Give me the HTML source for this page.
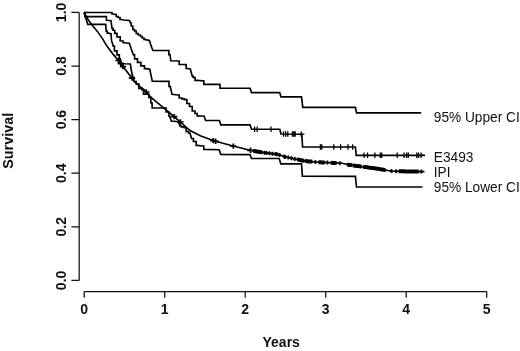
<!DOCTYPE html>
<html><head><meta charset="utf-8"><title>Survival</title>
<style>
html,body{margin:0;padding:0;background:#fff;}
body{width:520px;height:351px;overflow:hidden;}
svg{display:block;}
text{font-family:"Liberation Sans",Arial,Helvetica,sans-serif;fill:#111;}
.tk{font-size:14px;font-weight:bold;}
.ti{font-size:14px;font-weight:bold;}
.lb{font-size:14px;}
.c{fill:none;stroke:#000;stroke-width:1.65;stroke-linejoin:miter;stroke-linecap:butt;}
.ax{fill:none;stroke:#111;stroke-width:1.25;}
.m{fill:none;stroke:#000;stroke-width:1.7;}
.me{fill:none;stroke:#000;stroke-width:1.3;}
</style></head><body>
<svg width="520" height="351" viewBox="0 0 520 351">
<rect width="520" height="351" fill="#fff"/>
<g class="ax">
<path d="M79.2,12.4V280.4"/>
<path d="M79.2,280.4h-7.8M79.2,226.8h-7.8M79.2,173.2h-7.8M79.2,119.6h-7.8M79.2,66.0h-7.8M79.2,12.4h-7.8"/>
<path d="M84.2,291.6H486.7"/>
<path d="M84.2,291.6v6.2M164.7,291.6v6.2M245.2,291.6v6.2M325.7,291.6v6.2M406.2,291.6v6.2M486.7,291.6v6.2"/>
</g>
<g class="tk"><text x="84.2" y="313.7" text-anchor="middle">0</text><text x="164.7" y="313.7" text-anchor="middle">1</text><text x="245.2" y="313.7" text-anchor="middle">2</text><text x="325.7" y="313.7" text-anchor="middle">3</text><text x="406.2" y="313.7" text-anchor="middle">4</text><text x="486.7" y="313.7" text-anchor="middle">5</text><text transform="translate(66,280.4) rotate(-90)" text-anchor="middle">0.0</text><text transform="translate(66,226.8) rotate(-90)" text-anchor="middle">0.2</text><text transform="translate(66,173.2) rotate(-90)" text-anchor="middle">0.4</text><text transform="translate(66,119.6) rotate(-90)" text-anchor="middle">0.6</text><text transform="translate(66,66.0) rotate(-90)" text-anchor="middle">0.8</text><text transform="translate(66,12.4) rotate(-90)" text-anchor="middle">1.0</text></g>
<g class="ti">
<text x="281.2" y="346.6" text-anchor="middle">Years</text>
<text transform="translate(12.8,140.8) rotate(-90)" text-anchor="middle" style="font-size:14.4px">Survival</text>
</g>
<g class="c">
<polyline points="84.0,12.5 111.0,12.5 112.0,12.5 112.0,14.0 113.0,14.0 115.5,14.5 116.2,14.5 116.2,16.5 117.0,16.5 118.0,16.5 118.0,17.5 119.0,17.5 120.0,17.5 120.0,19.5 121.0,19.5 124.0,20.0 129.5,20.5 130.5,23.0 131.2,23.0 131.2,26.0 132.0,26.0 132.8,26.0 132.8,29.5 133.5,29.5 134.5,29.5 134.5,31.0 135.5,31.0 136.2,31.0 136.2,33.5 137.0,33.5 138.2,33.5 138.2,35.0 139.5,35.0 140.5,35.0 140.5,36.5 141.5,36.5 142.2,36.5 142.2,38.0 143.0,38.0 144.0,38.0 144.0,39.5 145.0,39.5 146.1,39.5 146.1,40.0 148.4,40.0 148.4,40.5 149.5,40.5 150.5,44.0 152.8,50.5 167.7,50.5 168.8,50.5 168.8,54.6 170.0,54.6 170.8,60.8 178.5,61.0 179.2,61.0 179.2,64.3 180.0,64.3 185.4,64.6 186.2,64.6 186.2,68.5 187.0,68.5 190.3,69.0 192.3,76.2 193.2,76.2 193.2,77.5 194.0,77.5 195.1,77.5 195.1,80.3 196.2,80.3 203.0,80.8 203.8,80.8 203.8,84.3 204.6,84.3 219.2,84.4 220.0,84.4 220.0,88.2 220.8,88.2 250.0,88.2 251.5,92.6 279.7,92.6 281.0,96.8 301.5,96.8 302.8,107.4 355.4,107.4 356.5,112.8 421.2,112.8"/>
<polyline points="84.0,12.5 87.8,24.4 105.7,24.4 106.2,31.2 107.2,31.2 107.2,33.1 108.1,33.1 111.0,33.6 111.5,40.4 113.3,46.1 114.4,46.1 114.4,50.8 115.6,50.8 117.0,50.8 117.0,54.8 118.5,54.8 119.3,54.8 119.3,58.8 120.2,58.8 120.5,63.0 124.8,63.7 130.4,64.0 131.2,70.0 133.0,77.5 133.9,77.5 133.9,81.5 134.8,81.5 136.2,81.5 136.2,83.8 137.7,83.8 138.8,83.8 138.8,88.4 140.0,88.4 141.7,88.4 141.7,89.6 143.4,89.6 143.5,94.2 148.0,94.2 148.8,94.2 148.8,97.3 149.6,97.3 150.8,97.3 150.8,102.7 152.0,102.7 152.2,108.0 164.2,108.0 166.1,108.0 166.1,112.0 168.0,112.0 168.8,112.0 168.8,115.8 169.6,115.8 171.2,121.0 178.5,121.7 180.0,126.0 181.3,126.0 181.3,126.8 184.1,126.8 184.1,127.7 185.4,127.7 186.2,127.7 186.2,131.5 187.0,131.5 188.5,131.5 188.5,133.0 190.0,133.0 191.5,138.5 193.4,138.5 193.4,141.5 195.4,141.5 196.2,141.5 196.2,145.4 197.0,145.4 203.0,146.0 203.8,146.0 203.8,149.4 204.6,149.4 219.2,149.8 220.8,154.4 250.0,154.6 251.5,158.5 279.2,158.5 280.8,163.8 301.5,163.8 302.4,176.3 355.4,176.4 356.5,187.0 422.5,187.0"/>
<polyline points="84.0,12.5 84.9,12.5 84.9,16.6 85.8,16.6 105.7,16.6 106.4,16.6 106.4,20.2 107.1,20.2 111.0,20.7 112.0,28.3 113.0,28.3 113.0,30.2 113.9,30.2 114.7,30.2 114.7,33.3 115.4,33.3 117.0,33.3 117.0,36.9 118.5,36.9 120.2,36.9 120.2,41.0 121.9,41.0 123.1,41.0 123.1,42.7 124.2,42.7 129.4,43.3 131.1,48.5 133.4,54.8 134.6,54.8 134.6,58.8 135.8,58.8 137.5,58.8 137.5,62.3 139.2,62.3 140.9,62.3 140.9,65.8 142.7,65.8 144.4,65.8 144.4,68.6 146.1,68.6 149.8,69.3 152.3,81.3 167.8,81.4 169.0,81.4 169.0,86.4 170.2,86.4 172.0,94.2 178.0,95.0 179.2,95.0 179.2,98.0 180.4,98.0 181.8,98.0 181.8,98.8 184.5,98.8 184.5,99.6 185.8,99.6 186.9,99.6 186.9,103.5 188.0,103.5 189.5,103.5 189.5,106.5 191.0,106.5 192.2,106.5 192.2,111.0 193.5,111.0 195.0,111.0 195.0,113.5 196.5,113.5 197.2,113.5 197.2,115.8 198.0,115.8 204.2,116.3 205.6,120.4 219.4,120.5 220.8,124.8 250.0,124.8 251.5,129.2 279.8,129.2 281.0,134.0 301.8,134.2 302.6,147.0 355.4,147.0 356.2,155.3 425.0,155.3"/>
<polyline points="84,12.5 88,19.5 92.6,25.8 97.4,31.4 102.3,38.4 106.9,46.1 113.6,54.9 118.5,60.5 122.5,66 131.9,78 135,82.3 145.8,91.4 150.4,97 165.8,109.6 175,117.3 181,122.5 190,130.5 200.8,136 213.8,140.8 233,146 250,150.2 263.8,152.6 277,154.2 285,156.8 295,159 303.8,160.8 315,162 331.5,162.8 342,163.3 348.6,164.8 360.8,166.5 375,168.4 385,170 392,171.2 424.5,171.6"/>
</g>
<path class="m" d="M115.3,60.5h6.4M118.5,57.8v5.4M117.6,63.7h6.4M120.8,61.0v5.4M119.8,66.6h6.4M123.0,63.9v5.4M128.8,78.1h6.4M132.0,75.4v5.4M143.1,92.0h6.4M146.3,89.3v5.4M171.0,116.6h6.4M174.2,113.9v5.4M177.2,122.0h6.4M180.4,119.3v5.4M210.0,140.6h6.4M213.2,137.9v5.4M212.4,141.3h6.4M215.6,138.6v5.4M230.1,146.1h6.4M233.3,143.4v5.4M247.3,150.3h6.4M250.5,147.6v5.4M252.4,150.9h3.2M254.0,148.9v4.0M253.9,151.2h3.2M255.5,149.2v4.0M255.4,151.4h3.2M257.0,149.4v4.0M256.9,151.7h3.2M258.5,149.7v4.0M258.4,151.9h3.2M260.0,149.9v4.0M259.9,152.2h3.2M261.5,150.2v4.0M262.9,152.7h3.2M264.5,150.7v4.0M264.9,152.9h3.2M266.5,150.9v4.0M267.9,153.3h3.2M269.5,151.3v4.0M270.9,153.7h3.2M272.5,151.7v4.0M273.9,154.0h3.2M275.5,152.0v4.0M275.4,154.2h3.2M277.0,152.2v4.0M278.0,155.0h3.2M279.6,153.0v4.0M282.4,156.5h3.2M284.0,154.5v4.0M283.7,156.9h3.2M285.3,154.9v4.0M286.7,157.5h3.2M288.3,155.5v4.0M289.8,158.2h3.2M291.4,156.2v4.0M293.1,158.9h3.2M294.7,156.9v4.0M296.4,159.6h3.2M298.0,157.6v4.0M297.9,159.9h3.2M299.5,157.9v4.0M299.4,160.2h3.2M301.0,158.2v4.0M300.9,160.5h3.2M302.5,158.5v4.0M302.0,160.8h3.2M303.6,158.8v4.0M304.4,161.0h3.2M306.0,159.0v4.0M305.9,161.2h3.2M307.5,159.2v4.0M307.4,161.4h3.2M309.0,159.4v4.0M308.9,161.5h3.2M310.5,159.5v4.0M309.9,161.6h3.2M311.5,159.6v4.0M313.8,162.0h3.2M315.4,160.0v4.0M317.7,162.2h3.2M319.3,160.2v4.0M319.2,162.3h3.2M320.8,160.3v4.0M320.8,162.4h3.2M322.4,160.4v4.0M322.4,162.4h3.2M324.0,160.4v4.0M325.8,162.6h3.2M327.4,160.6v4.0M329.9,162.8h3.2M331.5,160.8v4.0M331.4,162.9h3.2M333.0,160.9v4.0M332.9,162.9h3.2M334.5,160.9v4.0M334.2,163.0h3.2M335.8,161.0v4.0M338.2,163.2h3.2M339.8,161.2v4.0M346.4,164.7h3.2M348.0,162.7v4.0M347.9,164.9h3.2M349.5,162.9v4.0M349.4,165.1h3.2M351.0,163.1v4.0M351.9,165.5h3.2M353.5,163.5v4.0M353.4,165.7h3.2M355.0,163.7v4.0M354.9,165.9h3.2M356.5,163.9v4.0M356.4,166.1h3.2M358.0,164.1v4.0M357.9,166.3h3.2M359.5,164.3v4.0M359.2,166.5h3.2M360.8,164.5v4.0M362.4,166.9h3.2M364.0,164.9v4.0M363.9,167.1h3.2M365.5,165.1v4.0M365.4,167.3h3.2M367.0,165.3v4.0M366.9,167.5h3.2M368.5,165.5v4.0M368.4,167.7h3.2M370.0,165.7v4.0M369.9,167.9h3.2M371.5,165.9v4.0M371.4,168.1h3.2M373.0,166.1v4.0M372.9,168.3h3.2M374.5,166.3v4.0M374.4,168.6h3.2M376.0,166.6v4.0M375.9,168.8h3.2M377.5,166.8v4.0M377.4,169.0h3.2M379.0,167.0v4.0M378.9,169.3h3.2M380.5,167.3v4.0M380.4,169.5h3.2M382.0,167.5v4.0M381.9,169.8h3.2M383.5,167.8v4.0M383.2,170.0h3.2M384.8,168.0v4.0M389.9,171.1h3.2M391.5,169.1v4.0M394.4,171.2h3.2M396.0,169.2v4.0M397.9,171.3h3.2M399.5,169.3v4.0M399.4,171.3h3.2M401.0,169.3v4.0M400.9,171.3h3.2M402.5,169.3v4.0M402.4,171.3h3.2M404.0,169.3v4.0M403.7,171.4h3.2M405.3,169.4v4.0M405.6,171.4h3.2M407.2,169.4v4.0M407.1,171.4h3.2M408.7,169.4v4.0M408.6,171.4h3.2M410.2,169.4v4.0M410.1,171.4h3.2M411.7,169.4v4.0M411.6,171.5h3.2M413.2,169.5v4.0M413.1,171.5h3.2M414.7,169.5v4.0M414.6,171.5h3.2M416.2,169.5v4.0M416.4,171.5h3.2M418.0,169.5v4.0M419.7,171.6h3.2M421.3,169.6v4.0"/>
<path class="me" d="M254.6,126.5v5.4M257.2,126.5v5.4M271.0,126.5v5.4M283.5,131.3v5.4M285.7,131.3v5.4M287.8,131.3v5.4M292.4,131.3v5.4M293.8,131.3v5.4M295.2,131.3v5.4M301.2,131.4v5.4M320.4,144.3v5.4M321.8,144.3v5.4M333.8,144.3v5.4M340.6,144.3v5.4M348.0,144.3v5.4M352.6,144.3v5.4M364.1,152.6v5.4M367.5,152.6v5.4M374.9,152.6v5.4M380.3,152.6v5.4M381.8,152.6v5.4M397.2,152.6v5.4M404.0,152.6v5.4M406.6,152.6v5.4M408.3,152.6v5.4M416.8,152.6v5.4M418.5,152.6v5.4M421.0,152.6v5.4M301,134.1h3.4M421,155.3h3.6"/>
<g class="lb" transform="translate(433.8,0) scale(0.978,1)">
<text x="0" y="121.8">95% Upper CI</text>
<text x="0" y="161.9">E3493</text>
<text x="0" y="176.7">IPI</text>
<text x="0" y="192.1">95% Lower CI</text>
</g>
</svg>
</body></html>
